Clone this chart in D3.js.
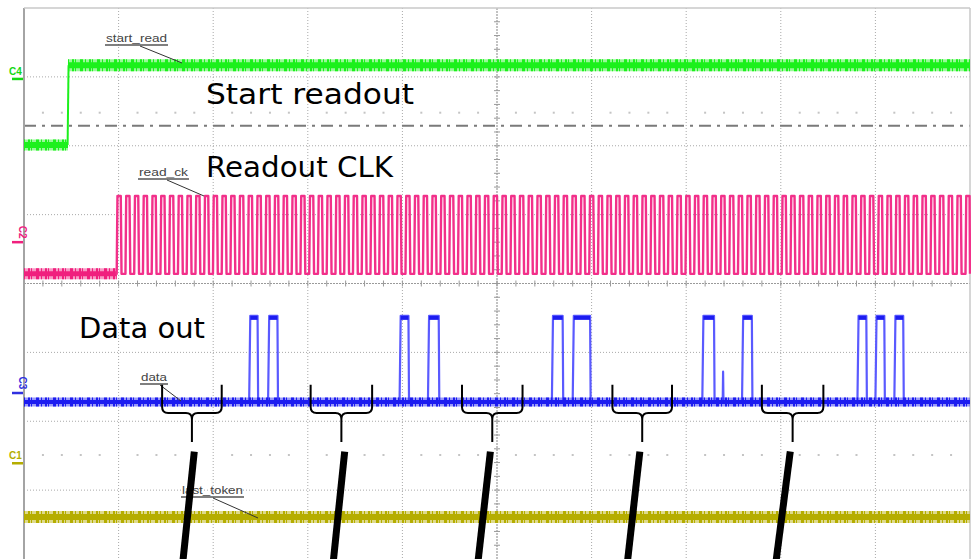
<!DOCTYPE html>
<html>
<head>
<meta charset="utf-8">
<script src="https://cdn.jsdelivr.net/npm/d3@7"></script>
<style>
  body { margin: 0; background: #fff; }
  svg { display: block; }
</style>
</head>
<body>
<div id="scope"></div>
<script>
// screen is 10 divisions across and 8 divisions down (level counted from the top)
var svgWidth = 971;
var svgHeight = 559;

var gridCols = d3.range(0, 11);
var gridRows = d3.range(0, 9);

// C4 start_read: one rising edge
var startReadEdge = 0.465;
var startReadLow = 1.99;
var startReadHigh = 0.83;

// C2 read_ck: clock begins and keeps running to the end of the screen
var clockStart = 0.98;
var clockPeriod = 0.0925;
var clockDuty = 0.55;
var clockLow = 3.86;
var clockHigh = 2.73;

// C3 data: pulses [rise, fall]
var dataPulses = [
  [2.38, 2.475], [2.58, 2.685],
  [3.97, 4.07], [4.27, 4.39],
  [5.58, 5.70], [5.80, 5.99],
  [7.17, 7.30], [7.59, 7.70],
  [8.81, 8.91], [9.00, 9.10], [9.20, 9.30]
];
var dataSpikes = [7.39];
var dataBase = 5.72;
var dataHigh = 4.47;
var dataSpikeTop = 5.28;

// C1 last_token: flat
var lastTokenLevel = 7.39;

// braces under the idle parts of data, and the thick pointers below them
var braceRanges = [[1.46, 2.09], [3.03, 3.68], [4.63, 5.27], [6.22, 6.85], [7.80, 8.45]];
var pointerTops = [1.80, 3.39, 4.93, 6.51, 8.10];
var pointerBottoms = [1.68, 3.27, 4.80, 6.38, 7.95];

var x = d3.scaleLinear().domain([0, 10]).range([24, 970]);
var y = d3.scaleLinear().domain([0, 8]).range([8, 559]);

var svg = d3.select("#scope")
  .append("svg")
  .attr("width", svgWidth)
  .attr("height", svgHeight);

svg.append("rect")
  .attr("width", svgWidth)
  .attr("height", svgHeight)
  .attr("fill", "#fff");

// grid
var grid = svg.append("g");

grid.selectAll(".vline")
  .data(gridCols.filter(d => d > 0 && d < 10 && d !== 5))
  .enter()
  .append("line")
  .attr("x1", d => x(d)).attr("x2", d => x(d))
  .attr("y1", y(0)).attr("y2", y(8))
  .attr("stroke", "#a9a9a9")
  .attr("stroke-width", 1)
  .attr("stroke-dasharray", "1,2");

grid.selectAll(".hline")
  .data(gridRows.filter(d => d > 0 && d < 8 && d !== 4))
  .enter()
  .append("line")
  .attr("x1", x(0)).attr("x2", x(10))
  .attr("y1", d => y(d)).attr("y2", d => y(d))
  .attr("stroke", "#a9a9a9")
  .attr("stroke-width", 1)
  .attr("stroke-dasharray", "1,2");

// centre cross with minor ticks
grid.append("line")
  .attr("x1", x(5)).attr("x2", x(5))
  .attr("y1", y(0)).attr("y2", y(8))
  .attr("stroke", "#9a9a9a")
  .attr("stroke-width", 1.2)
  .attr("stroke-dasharray", "2,1");
grid.append("line")
  .attr("x1", x(0)).attr("x2", x(10))
  .attr("y1", y(4)).attr("y2", y(4))
  .attr("stroke", "#9a9a9a")
  .attr("stroke-width", 1.2)
  .attr("stroke-dasharray", "2,1");

grid.selectAll(".vtick")
  .data(d3.range(1, 40))
  .enter()
  .append("line")
  .attr("x1", x(5) - 3).attr("x2", x(5) + 3)
  .attr("y1", d => y(d * 0.2)).attr("y2", d => y(d * 0.2))
  .attr("stroke", "#9a9a9a");
grid.selectAll(".htick")
  .data(d3.range(1, 50))
  .enter()
  .append("line")
  .attr("x1", d => x(d * 0.2)).attr("x2", d => x(d * 0.2))
  .attr("y1", y(4) - 3).attr("y2", y(4) + 3)
  .attr("stroke", "#9a9a9a");

// rows of small dots
var dotRows = [1.52, 6.49];
dotRows.forEach(function (lv) {
  grid.selectAll(null)
    .data(d3.range(1, 50).filter(d => d % 5 !== 0))
    .enter()
    .append("rect")
    .attr("x", d => x(d * 0.2) - 1)
    .attr("y", y(lv) - 1)
    .attr("width", 2)
    .attr("height", 2)
    .attr("fill", "#c4c4c4");
});

// trigger dash-dot line
grid.append("line")
  .attr("x1", x(0)).attr("x2", x(10))
  .attr("y1", y(1.71)).attr("y2", y(1.71))
  .attr("stroke", "#7a7a7a")
  .attr("stroke-width", 2)
  .attr("stroke-dasharray", "12,6,3,6");

// frame
svg.append("line")
  .attr("x1", x(0)).attr("x2", x(0))
  .attr("y1", y(0)).attr("y2", y(8))
  .attr("stroke", "#a4a4a4").attr("stroke-width", 2);
svg.append("line")
  .attr("x1", x(0)).attr("x2", x(10))
  .attr("y1", y(0)).attr("y2", y(0))
  .attr("stroke", "#c8c8c8").attr("stroke-width", 1.5);
svg.append("line")
  .attr("x1", x(10)).attr("x2", x(10))
  .attr("y1", y(0)).attr("y2", y(8))
  .attr("stroke", "#c8c8c8").attr("stroke-width", 1.5);

var line = d3.line()
  .x(d => x(d[0]))
  .y(d => y(d[1]));

// flat noisy level: fuzzy band plus a solid core
function drawLevel(t0, t1, level, color, band, core) {
  var pts = [[t0, level], [t1, level]];
  svg.append("path")
    .datum(pts)
    .attr("d", line)
    .attr("stroke", color)
    .attr("stroke-opacity", 0.45)
    .attr("stroke-width", band);
  svg.append("path")
    .datum(pts)
    .attr("d", line)
    .attr("stroke", color)
    .attr("stroke-width", band)
    .attr("stroke-dasharray", "1,3,2,1,1,4,3,2");
  svg.append("path")
    .datum(pts)
    .attr("d", line)
    .attr("stroke", color)
    .attr("stroke-width", core);
}

// C4 start_read
drawLevel(0, startReadEdge, startReadLow, "#1cf01c", 11, 6);
drawLevel(startReadEdge, 10, startReadHigh, "#1cf01c", 12, 6);
svg.append("path")
  .datum([[startReadEdge - 0.004, startReadLow], [startReadEdge + 0.006, startReadHigh]])
  .attr("d", line)
  .attr("stroke", "#1cf01c")
  .attr("stroke-width", 2);

// C2 read_ck
drawLevel(0, clockStart, clockLow, "#f0207e", 11, 5);

var clockPts = [[clockStart - 0.01, clockLow]];
for (var t = clockStart; t < 10; t += clockPeriod) {
  var fall = t + clockPeriod * clockDuty;
  clockPts.push([t, clockLow]);
  clockPts.push([t + 0.008, clockHigh]);
  clockPts.push([Math.min(fall - 0.008, 10), clockHigh]);
  clockPts.push([Math.min(fall, 10), clockLow]);
}
clockPts.push([10, clockLow]);
svg.append("path")
  .datum(clockPts)
  .attr("d", line)
  .attr("fill", "none")
  .attr("stroke", "#f2308a")
  .attr("stroke-width", 2.4)
  .attr("stroke-linejoin", "round");

// C3 data
var dataPts = [[0, dataBase]];
var events = [];
dataPulses.forEach(function (p) {
  events.push([p[0], dataBase], [p[0] + 0.012, dataHigh], [p[1] - 0.006, dataHigh], [p[1], dataBase]);
});
dataSpikes.forEach(function (s) {
  events.push([s - 0.004, dataBase], [s, dataSpikeTop], [s + 0.004, dataBase]);
});
events.sort((a, b) => a[0] - b[0]);
dataPts = dataPts.concat(events);
dataPts.push([10, dataBase]);

svg.append("path")
  .datum(dataPts)
  .attr("d", line)
  .attr("fill", "none")
  .attr("stroke", "#5a5aff")
  .attr("stroke-width", 2.2)
  .attr("stroke-linejoin", "round");
drawLevel(0, 10, dataBase, "#1c1cf0", 9, 4);
svg.selectAll(".ptop")
  .data(dataPulses)
  .enter()
  .append("line")
  .attr("x1", d => x(d[0] + 0.012))
  .attr("x2", d => x(d[1] - 0.006))
  .attr("y1", y(dataHigh) + 2)
  .attr("y2", y(dataHigh) + 2)
  .attr("stroke", "#1c1cf0")
  .attr("stroke-width", 4);

// C1 last_token
drawLevel(0, 10, lastTokenLevel, "#b5ad00", 12, 6);

// channel markers
var markers = [
  { name: "C4", color: "#14d814", level: 1.03, rotate: false },
  { name: "C2", color: "#f0207e", level: 3.40, rotate: true },
  { name: "C3", color: "#3030e0", level: 5.59, rotate: true },
  { name: "C1", color: "#b5ad00", level: 6.61, rotate: false }
];
markers.forEach(function (m) {
  svg.append("line")
    .attr("x1", 12).attr("x2", 23)
    .attr("y1", y(m.level)).attr("y2", y(m.level))
    .attr("stroke", m.color)
    .attr("stroke-width", 2.5);
  var t = svg.append("text")
    .attr("fill", m.color)
    .attr("font-family", "Liberation Sans, Arial, sans-serif")
    .attr("font-size", 10)
    .attr("font-weight", "bold")
    .text(m.name);
  if (m.rotate) {
    t.attr("text-anchor", "middle")
      .attr("transform", `translate(19, ${y(m.level) - 10}) rotate(90)`);
  } else {
    t.attr("x", 9).attr("y", y(m.level) - 4);
  }
});

// small trace labels with leader lines
var traceLabels = [
  { text: "start_read", x: 106, y: 42, w: 61, lx: 140, ly: 46, tx: 182, ty: 63 },
  { text: "read_ck", x: 139, y: 176, w: 49, lx: 167, ly: 180, tx: 204, ty: 196 },
  { text: "data", x: 141, y: 381, w: 26, lx: 160, ly: 385, tx: 181, ty: 401 },
  { text: "last_token", x: 182, y: 494, w: 61, lx: 213, ly: 498, tx: 258, ty: 518 }
];
traceLabels.forEach(function (l) {
  svg.append("text")
    .attr("x", l.x)
    .attr("y", l.y)
    .attr("font-family", "Liberation Sans, Arial, sans-serif")
    .attr("font-size", 10)
    .attr("fill", "#444")
    .attr("textLength", l.w)
    .attr("lengthAdjust", "spacingAndGlyphs")
    .text(l.text);
  svg.append("line")
    .attr("x1", l.x - 1).attr("x2", l.x + l.w + 1)
    .attr("y1", l.y + 3).attr("y2", l.y + 3)
    .attr("stroke", "#555").attr("stroke-width", 1.5);
  svg.append("line")
    .attr("x1", l.lx).attr("y1", l.ly)
    .attr("x2", l.tx).attr("y2", l.ty)
    .attr("stroke", "#333").attr("stroke-width", 1);
});

// big annotations
var notes = [
  { text: "Start readout", x: 206, y: 104, w: 208 },
  { text: "Readout CLK", x: 206, y: 177, w: 187 },
  { text: "Data out", x: 79, y: 338, w: 126 }
];
svg.selectAll(".note")
  .data(notes)
  .enter()
  .append("text")
  .attr("x", d => d.x)
  .attr("y", d => d.y)
  .attr("font-family", "DejaVu Sans, sans-serif")
  .attr("font-size", 28)
  .attr("fill", "#000")
  .attr("textLength", d => d.w)
  .attr("lengthAdjust", "spacingAndGlyphs")
  .text(d => d.text);

// braces
var braceTop = 5.47, braceMid = 5.88, braceTip = 6.30;
function bracePath(r) {
  var x0 = x(r[0]), x1 = x(r[1]), xc = (x0 + x1) / 2;
  var yt = y(braceTop), ym = y(braceMid), yp = y(braceTip);
  var k = 6;
  return `M${x0},${yt} L${x0},${ym - k} Q${x0},${ym} ${x0 + k},${ym}` +
    ` L${xc - k},${ym} Q${xc},${ym} ${xc},${ym + k} L${xc},${yp}` +
    ` M${xc},${ym + k} Q${xc},${ym} ${xc + k},${ym} L${x1 - k},${ym}` +
    ` Q${x1},${ym} ${x1},${ym - k} L${x1},${yt}`;
}
svg.selectAll(".brace")
  .data(braceRanges)
  .enter()
  .append("path")
  .attr("d", bracePath)
  .attr("fill", "none")
  .attr("stroke", "#000")
  .attr("stroke-width", 2);

// thick pointers
svg.selectAll(".pointer")
  .data(pointerTops)
  .enter()
  .append("line")
  .attr("x1", d => x(d))
  .attr("y1", y(6.44))
  .attr("x2", (d, i) => x(pointerBottoms[i]))
  .attr("y2", y(8) + 2)
  .attr("stroke", "#000")
  .attr("stroke-width", 7);
</script>
</body>
</html>
